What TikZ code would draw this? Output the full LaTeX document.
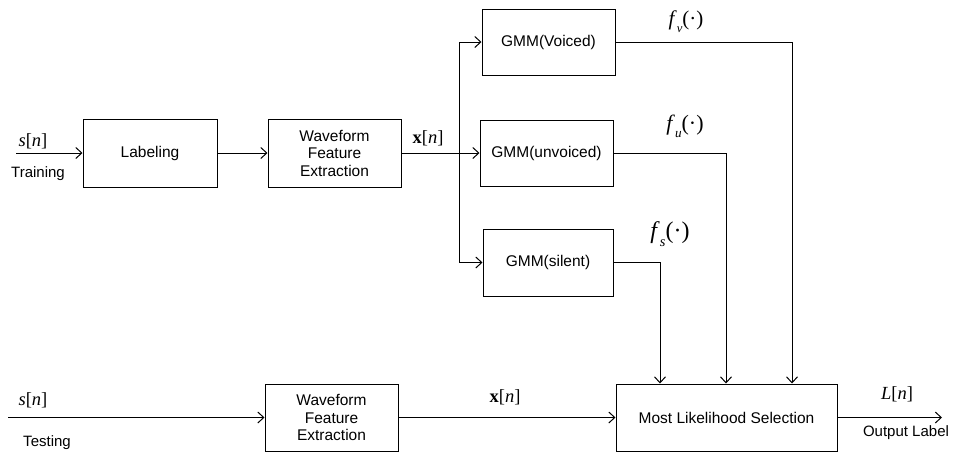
\documentclass[tikz,border=0pt]{standalone}
\usepackage{fontspec}
\setmainfont{Liberation Sans}
\newfontfamily\tnr{Liberation Serif}
\usetikzlibrary{arrows.meta,calc}

% serif labels for signals and likelihood functions
\newcommand{\sig}[2]{{\tnr\fontsize{18.5}{20}\selectfont #1[\textit{n}]}}
\newcommand{\lik}[2]{{\tnr\fontsize{#2}{#2}\selectfont\textit{f}\raisebox{-0.32em}{\fontsize{0.6\dimexpr#2pt\relax}{1}\selectfont\textit{#1}}(\textperiodcentered)}}

\begin{document}
\begin{tikzpicture}[x=1pt,y=-1pt,
  blk/.style={draw,line width=1pt,rectangle,inner sep=0pt,align=center,
    font=\fontsize{15.5}{17.5}\selectfont},
  arr/.style={line width=1pt,-{Straight Barb[length=6pt,width=11pt]}},
  wire/.style={line width=1pt},
  txt/.style={inner sep=0pt,font=\fontsize{15}{17.5}\selectfont}]
\useasboundingbox (0,0) rectangle (954,456);

% blocks of the training path
\node[blk,minimum width=134pt,minimum height=68pt] (lab) at (150,153) {Labeling};
\node[blk,minimum width=133pt,minimum height=68pt] (wfe1) at (334.5,153) {Waveform\\Feature\\Extraction};
\node[blk,minimum width=133pt,minimum height=66pt] (gmmv) at (548.5,42) {GMM(Voiced)};
\node[blk,minimum width=133pt,minimum height=66pt] (gmmu) at (546.5,153) {GMM(unvoiced)};
\node[blk,minimum width=130pt,minimum height=67pt] (gmms) at (548,262.5) {GMM(silent)};

% blocks of the testing path
\node[blk,minimum width=133pt,minimum height=67pt] (wfe2) at (331.5,417.5) {Waveform\\Feature\\Extraction};
\node[blk,minimum width=221pt,minimum height=67pt] (mls) at (726.5,417.5) {Most Likelihood Selection};

% free ends and bends
\coordinate (intrain) at (16,153);
\coordinate (intest) at (8,417.5);
\coordinate (out) at (942,417.5);
\coordinate (split) at (459,153);
\coordinate (cv) at (792,0);
\coordinate (cu) at (726,0);
\coordinate (cs) at (660,0);

% training connectors
\draw[arr] (intrain) -- (lab);
\draw[arr] (lab) -- (wfe1);
\draw[arr] (wfe1) -- (gmmu);
\draw[wire] (gmmv.west -| split) -- (gmms.west -| split);
\draw[arr] (gmmv.west -| split) -- (gmmv.west);
\draw[arr] (gmms.west -| split) -- (gmms.west);

% likelihood outputs into the selector
\draw[arr] (gmmv.east) -| (cv |- mls.north);
\draw[arr] (gmmu.east) -| (cu |- mls.north);
\draw[arr] (gmms.east) -| (cs |- mls.north);

% testing connectors
\draw[arr] (intest) -- (wfe2);
\draw[arr] (wfe2) -- (mls);
\draw[arr] (mls) -- (out);

% labels
\node[inner sep=0pt] (s1) at (33,141) {\sig{\textit{s}}{}};
\node[txt] (tr) at (38,174) {Training};
\node[inner sep=0pt] (x1) at (428,138) {\sig{\textbf{x}}{}};
\node[inner sep=0pt] (fv) at (686,22) {\lik{v}{21}};
\node[inner sep=0pt] (fu) at (685,126) {\lik{u}{22}};
\node[inner sep=0pt] (fs) at (670,234) {\lik{s}{24}};
\node[inner sep=0pt] (s2) at (33,400) {\sig{\textit{s}}{}};
\node[txt] (te) at (47,443) {Testing};
\node[inner sep=0pt] (x2) at (505,397) {\sig{\textbf{x}}{}};
\node[inner sep=0pt] (ln) at (897,394) {\sig{\textit{L}}{}};
\node[txt] (ol) at (906,433) {Output Label};
\end{tikzpicture}
\end{document}
